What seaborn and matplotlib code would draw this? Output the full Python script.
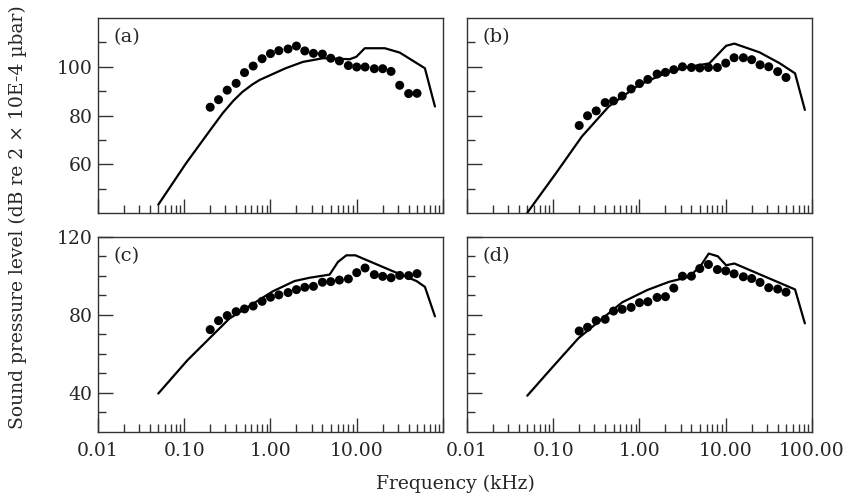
import numpy as np
import pandas as pd
import matplotlib
matplotlib.use("Agg")
import matplotlib.pyplot as plt
import matplotlib.ticker as mticker
import seaborn as sns

# one-third octave band centres (kHz) used for the measured points
freqs = [0.2, 0.25, 0.315, 0.4, 0.5, 0.63, 0.8, 1.0, 1.25, 1.6, 2.0, 2.5, 3.15,
         4.0, 5.0, 6.3, 8.0, 10.0, 12.5, 16.0, 20.0, 25.0, 31.5, 40.0, 50.0]

meas_a = [83.4, 86.5, 90.4, 93.2, 97.6, 100.3, 103.3, 105.4, 106.6, 107.3, 108.5, 106.5, 105.5,
          105.2, 103.5, 102.4, 100.5, 99.9, 99.9, 99.2, 99.2, 98.1, 92.4, 89.0, 89.1]
meas_b = [75.9, 79.9, 81.9, 85.3, 86.0, 88.0, 90.9, 93.1, 94.8, 97.0, 97.7, 98.8, 100.0,
          99.7, 99.5, 99.7, 99.7, 101.5, 103.7, 103.7, 102.9, 100.8, 100.0, 98.0, 95.6]
meas_c = [72.5, 77.1, 79.7, 81.7, 83.1, 84.6, 87.0, 89.1, 90.3, 91.5, 93.0, 94.2, 94.7,
          96.8, 97.1, 97.9, 98.5, 101.7, 104.1, 100.7, 99.8, 99.1, 100.3, 100.2, 101.2]
meas_d = [71.8, 73.7, 77.1, 77.8, 82.0, 82.9, 83.9, 86.3, 86.8, 89.0, 89.4, 93.8, 99.9,
          99.9, 103.8, 105.9, 103.3, 102.6, 101.1, 99.6, 98.7, 96.7, 94.0, 93.3, 91.7]

# predicted curves
pred_a_f = [0.05, 0.105, 0.2, 0.28, 0.37, 0.47, 0.62, 0.75, 1.5, 2.38, 4.06, 8.3, 9.9, 12.4,
            21.2, 31.6, 61.7, 80.7]
pred_a = [43.4, 60.4, 74.0, 81.0, 86.0, 89.6, 92.8, 94.6, 99.4, 102.0, 103.5, 103.1, 104.1,
          107.6, 107.6, 105.8, 99.4, 83.7]
pred_b_f = [0.05, 0.105, 0.215, 0.44, 0.98, 2.2, 3.78, 6.46, 10.1, 12.6, 24.7, 42.4, 63.6, 82.7]
pred_b = [40.1, 55.8, 71.4, 83.7, 92.5, 98.0, 100.0, 101.4, 108.6, 109.5, 105.9, 101.4, 97.3, 82.3]
pred_c_f = [0.05, 0.109, 0.333, 1.06, 1.9, 2.84, 4.85, 6.06, 7.58, 9.66, 27.7, 49.4, 61.8, 80.7]
pred_c = [39.7, 56.8, 78.1, 92.1, 97.4, 99.1, 100.7, 107.2, 110.6, 110.6, 102.0, 97.4, 94.4, 79.3]
pred_d_f = [0.05, 0.096, 0.196, 0.63, 1.23, 2.2, 3.78, 5.17, 6.35, 8.09, 10.1, 12.6, 63.6, 82.7]
pred_d = [38.6, 52.8, 68.1, 86.5, 92.8, 97.0, 99.6, 105.5, 111.5, 110.1, 105.5, 106.4, 93.1, 75.7]

panels = ["(a)", "(b)", "(c)", "(d)"]
meas = [meas_a, meas_b, meas_c, meas_d]
pred_f = [pred_a_f, pred_b_f, pred_c_f, pred_d_f]
pred = [pred_a, pred_b, pred_c, pred_d]

sns.set_style("ticks")
plt.rcParams['font.family'] = ['DejaVu Serif']

fig, axes = plt.subplots(2, 2, figsize=(8.46, 4.99), dpi=100)
fig.subplots_adjust(left=0.1158, right=0.9598, top=0.9639, bottom=0.1343,
                    wspace=0.0696, hspace=0.123)

edge = "#333333"
for i, ax in enumerate(axes.flat):
    row, col = divmod(i, 2)
    pts = pd.DataFrame({"f": freqs, "db": meas[i]})
    curve = pd.DataFrame({"f": pred_f[i], "db": pred[i]})
    sns.lineplot(data=curve, x="f", y="db", ax=ax, color="black", lw=1.6,
                 estimator=None, sort=False)
    sns.scatterplot(data=pts, x="f", y="db", ax=ax, color="black", s=42,
                    edgecolor="none", zorder=3)

    ax.set_xscale("log")
    ax.set_xlim(0.01, 100)
    ax.set_xlabel("")
    ax.set_ylabel("")

    if row == 0:
        ax.set_ylim(40, 120)
        ax.set_yticks([60, 80, 100])
        ax.set_yticks([50, 70, 90, 110], minor=True)
    else:
        ax.set_ylim(20, 120)
        ax.set_yticks([40, 80, 120])
        ax.set_yticks([30, 50, 60, 70, 90, 100, 110], minor=True)

    ax.xaxis.set_major_locator(mticker.FixedLocator([0.01, 0.1, 1, 10, 100]))
    ax.xaxis.set_minor_locator(mticker.LogLocator(base=10, subs=np.arange(2, 10), numticks=20))
    ax.xaxis.set_minor_formatter(mticker.NullFormatter())
    if row == 1:
        labels = ["0.01", "0.10", "1.00", "10.00", "100.00"]
        if col == 0:
            labels[-1] = ""
        ax.set_xticklabels(labels)
    else:
        ax.set_xticklabels([])
    if col == 1:
        ax.set_yticklabels([])

    ax.tick_params(axis="y", which="major", direction="in", length=11, width=1.0,
                   color=edge, labelsize=13.5, pad=4)
    ax.tick_params(axis="y", which="minor", direction="in", length=5.5, width=1.0, color=edge)
    ax.tick_params(axis="x", which="major", direction="in", length=10, width=1.0,
                   color=edge, labelsize=13.5, pad=7)
    ax.tick_params(axis="x", which="minor", direction="in", length=5.5, width=1.0, color=edge)

    for sp in ax.spines.values():
        sp.set_visible(True)
        sp.set_color(edge)
        sp.set_linewidth(1.0)

    ax.text(0.045, 0.9, panels[i], transform=ax.transAxes, fontsize=14,
            ha="left", va="center")

fig.text(0.538, 0.03, "Frequency (kHz)", ha="center", va="center", fontsize=13.5)
fig.text(0.021, 0.565, "Sound pressure level (dB re 2 \u00d7 10E-4 \u00b5bar)", rotation=90,
         ha="center", va="center", fontsize=13.5)

fig.savefig("out.png", dpi=100)
